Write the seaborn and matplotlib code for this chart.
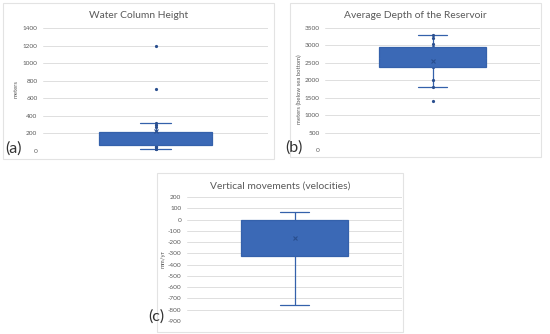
import matplotlib
matplotlib.use('Agg')
import matplotlib.pyplot as plt
from matplotlib.patches import Rectangle
import seaborn as sns
import numpy as np

# observations estimated from the reference boxes, whiskers and dots
water_column = [20, 25, 40, 50, 60, 70, 90, 100, 120, 150, 170, 180, 190, 200, 210,
                220, 270, 300, 320, 710, 1200]
reservoir_depth = [1400, 1820, 2000, 2380, 2450, 2550, 2650, 2750, 2850, 2950,
                   3050, 3200, 3300]
vertical_vel = [-760, -380, -330, -320, -230, -130, -100, -50, -20, 0, 30, 55, 65]

titles = ['Water Column Height', 'Average Depth of the Reservoir', 'Vertical movements (velocities)']
ylabels = ['meters', 'meters (below sea bottom)', 'mm/yr']
letters = ['(a)', '(b)', '(c)']
yticks = [np.arange(0, 1401, 200), np.arange(0, 3501, 500), np.arange(-900, 201, 100)]

box_col = '#3b69b6'
edge_col = '#3461ab'
dot_col = '#2a4f8f'
grid_col = '#d9d9d9'
txt_col = '#595959'

W, H = 550, 334
sns.set_style('white')
plt.rcParams['font.family'] = ['Lato', 'DejaVu Sans']
fig = plt.figure(figsize=(5.5, 3.34), dpi=100)


def fx(px):
    return px / W


def fy(py):
    return 1 - py / H


# frame / axes boxes in pixels (left, top, right, bottom)
panels = [
    dict(frame=(3, 3, 274, 159), ax=(43, 28, 268, 151), ty=15, ylx=16, let=(5, 149)),
    dict(frame=(290, 3, 541, 157), ax=(325, 28, 540, 150), ty=16, ylx=299, let=(285, 148)),
    dict(frame=(157, 173, 403, 332), ax=(187, 197, 402, 321), ty=186, ylx=163, let=(148, 317)),
]
datasets = [water_column, reservoir_depth, vertical_vel]
strip = [True, True, False]

for i, p in enumerate(panels):
    x0, y0, x1, y1 = p['frame']
    fig.patches.append(Rectangle((fx(x0), fy(y1)), fx(x1 - x0), (y1 - y0) / H,
                                 transform=fig.transFigure, fill=False,
                                 edgecolor='#e3e3e3', linewidth=0.8))
    ax0, ay0, ax1, ay1 = p['ax']
    ax = fig.add_axes([fx(ax0), fy(ay1), fx(ax1 - ax0), (ay1 - ay0) / H])
    vals = datasets[i]
    sns.boxplot(y=vals, ax=ax, width=0.5, color=box_col, saturation=1,
                showfliers=False, showmeans=True, linewidth=0.9,
                boxprops=dict(facecolor=box_col, edgecolor=edge_col, zorder=3),
                medianprops=dict(color=box_col, zorder=3),
                whiskerprops=dict(color=edge_col, zorder=2),
                capprops=dict(color=edge_col, zorder=2),
                meanprops=dict(marker='x', markeredgecolor=dot_col, markersize=2.5,
                               markeredgewidth=0.8, zorder=6))
    # narrower caps, like the spreadsheet whiskers
    for c in ax.containers:
        for cap in getattr(c, 'caps', []):
            xd = np.asarray(cap.get_xdata(), dtype=float)
            m = xd.mean()
            cap.set_xdata(m + (xd - m) * 0.55)
    if strip[i]:
        # drawn under the box so only the points outside it show
        sns.stripplot(y=vals, ax=ax, jitter=False, color=dot_col, size=2.3, zorder=2.5)
    ax.set_xlim(-0.5, 0.5)
    yt = yticks[i]
    ax.set_ylim(yt[0], yt[-1])
    ax.set_yticks(yt)
    ax.set_yticklabels([str(v) for v in yt], fontsize=4.6, color=txt_col)
    ax.yaxis.grid(True, color=grid_col, linewidth=0.6)
    ax.set_axisbelow(True)
    ax.set_xticks([])
    ax.tick_params(axis='y', length=0, pad=4)
    for s in ax.spines.values():
        s.set_visible(False)
    ax.set_ylabel('')
    fig.text(fx((x0 + x1) / 2), fy(p['ty']), titles[i], ha='center', va='center',
             fontsize=7.4, color=txt_col)
    fig.text(fx(p['ylx']), fy((ay0 + ay1) / 2), ylabels[i], ha='center', va='center',
             rotation=90, fontsize=4.3, color=txt_col)
    lx, ly = p['let']
    fig.text(fx(lx), fy(ly), letters[i], ha='left', va='center', fontsize=11.5, color='#333333')

fig.savefig('out.png', dpi=100, facecolor='white')
